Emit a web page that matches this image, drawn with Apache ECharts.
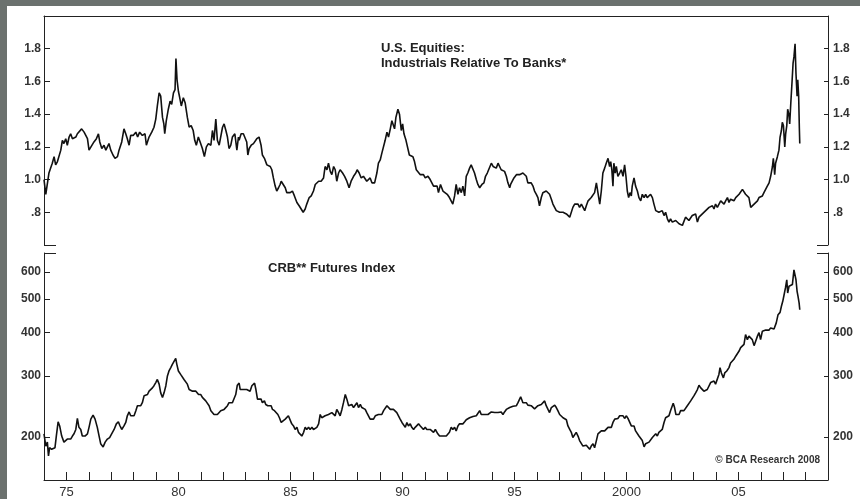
<!DOCTYPE html>
<html>
<head>
<meta charset="utf-8">
<script src="https://cdn.jsdelivr.net/npm/echarts/dist/echarts.min.js"></script>
<style>
html,body{margin:0;padding:0;background:#6b716e;width:860px;height:499px;overflow:hidden;}
#c{position:absolute;left:7px;top:6px;width:853px;height:493px;background:#fff;}
</style>
</head>
<body>
<div id="c"></div>
<script>
// ---- DATA ----
const xLabelYears = [1975, 1980, 1985, 1990, 1995, 2000, 2005];
const xLabelTexts = ['75', '80', '85', '90', '95', '2000', '05'];
const topTicks = [0.8, 1.0, 1.2, 1.4, 1.6, 1.8];
const topTickLabels = ['.8', '1.0', '1.2', '1.4', '1.6', '1.8'];
const crbTicks = [200, 300, 400, 500, 600];
const crbTickLabels = ['200', '300', '400', '500', '600'];

// U.S. Equities: Industrials relative to Banks  [year, ratio]
const industrialsVsBanks = [
[1974.00,1.00],[1974.08,0.91],[1974.22,1.04],[1974.37,1.10],[1974.45,1.14],[1974.52,1.09],[1974.60,1.11],[1974.75,1.18],[1974.82,1.24],[1974.89,1.22],[1974.97,1.25],[1975.04,1.21],[1975.12,1.26],[1975.19,1.28],[1975.27,1.25],[1975.42,1.26],[1975.49,1.28],[1975.56,1.27],[1975.68,1.31],[1975.79,1.29],[1975.86,1.30],[1975.94,1.25],[1976.01,1.18],[1976.09,1.17],[1976.23,1.23],[1976.34,1.25],[1976.43,1.28],[1976.49,1.23],[1976.58,1.19],[1976.68,1.21],[1976.76,1.18],[1976.83,1.19],[1976.90,1.22],[1976.98,1.18],[1977.08,1.15],[1977.17,1.13],[1977.28,1.14],[1977.35,1.18],[1977.47,1.23],[1977.57,1.31],[1977.65,1.28],[1977.72,1.25],[1977.80,1.21],[1977.87,1.27],[1977.98,1.27],[1978.10,1.29],[1978.18,1.26],[1978.27,1.29],[1978.39,1.27],[1978.51,1.28],[1978.57,1.21],[1978.69,1.26],[1978.81,1.29],[1978.91,1.32],[1978.99,1.37],[1979.06,1.45],[1979.14,1.53],[1979.21,1.51],[1979.29,1.38],[1979.35,1.34],[1979.39,1.28],[1979.46,1.36],[1979.55,1.43],[1979.63,1.48],[1979.70,1.46],[1979.78,1.53],[1979.85,1.55],[1979.89,1.74],[1979.94,1.61],[1980.00,1.54],[1980.06,1.50],[1980.13,1.45],[1980.22,1.50],[1980.30,1.47],[1980.40,1.38],[1980.48,1.32],[1980.57,1.33],[1980.66,1.30],[1980.73,1.24],[1980.80,1.21],[1980.89,1.26],[1980.97,1.23],[1981.07,1.19],[1981.16,1.14],[1981.25,1.20],[1981.34,1.22],[1981.45,1.21],[1981.52,1.30],[1981.59,1.24],[1981.67,1.37],[1981.74,1.24],[1981.82,1.21],[1981.89,1.21],[1981.97,1.32],[1982.04,1.34],[1982.12,1.30],[1982.19,1.26],[1982.26,1.19],[1982.34,1.21],[1982.41,1.26],[1982.52,1.28],[1982.61,1.18],[1982.68,1.26],
[1982.71,1.24],[1982.80,1.28],[1982.90,1.28],[1982.98,1.27],[1983.05,1.23],[1983.10,1.15],[1983.16,1.19],[1983.25,1.21],[1983.35,1.22],[1983.43,1.21],[1983.50,1.25],[1983.58,1.24],[1983.60,1.26],[1983.69,1.21],[1983.75,1.15],[1983.84,1.13],[1983.95,1.09],[1984.02,1.09],[1984.10,1.08],[1984.17,1.06],[1984.24,1.01],[1984.32,0.96],[1984.39,0.93],[1984.47,0.95],[1984.54,0.97],[1984.59,0.99],[1984.66,0.98],[1984.77,0.95],[1984.84,0.92],[1984.99,0.92],[1985.09,0.93],[1985.18,0.90],[1985.29,0.86],[1985.39,0.84],[1985.48,0.82],[1985.57,0.80],[1985.66,0.82],[1985.73,0.85],[1985.84,0.89],[1985.93,0.90],[1986.03,0.93],[1986.11,0.97],[1986.18,0.97],[1986.26,0.99],[1986.37,0.99],[1986.48,1.01],[1986.55,1.08],[1986.63,1.06],[1986.70,1.10],[1986.78,1.05],[1986.85,1.03],[1986.93,1.08],[1987.00,1.06],[1987.07,0.99],[1987.15,1.04],[1987.22,1.06],[1987.33,1.04],[1987.42,1.02],[1987.52,0.99],[1987.62,0.95],[1987.71,0.99],[1987.82,1.02],[1987.92,1.04],[1987.98,1.06],[1988.07,1.04],[1988.16,1.01],[1988.26,1.02],[1988.34,1.03],[1988.41,0.99],[1988.49,0.99],[1988.56,1.01],[1988.64,0.98],[1988.76,0.98],[1988.86,1.04],[1988.93,1.10],[1989.01,1.12],[1989.08,1.16],[1989.16,1.15],[1989.23,1.24],[1989.31,1.29],[1989.38,1.26],[1989.46,1.31],[1989.53,1.36],[1989.60,1.33],[1989.65,1.31],[1989.71,1.38],[1989.80,1.43],[1989.87,1.40],[1989.95,1.30],[1990.01,1.34],[1990.07,1.28],[1990.16,1.24],[1990.23,1.23],[1990.31,1.15],[1990.39,1.16],[1990.47,1.14],[1990.54,1.11],[1990.62,1.06],[1990.69,1.05],[1990.80,1.03],[1990.87,1.02],[1990.94,1.03],[1991.02,1.01],[1991.14,1.02],[1991.24,1.00],[1991.32,1.00],[1991.39,0.96],[1991.47,0.95],
[1991.55,0.96],[1991.61,0.92],[1991.70,0.97],[1991.81,0.93],[1991.88,0.92],[1992.00,0.91],[1992.10,0.89],[1992.18,0.88],[1992.25,0.85],[1992.33,0.90],[1992.40,0.97],[1992.48,0.91],[1992.55,0.95],[1992.63,0.92],[1992.70,0.96],[1992.78,0.90],[1992.85,1.02],[1992.92,1.04],[1993.00,1.07],[1993.07,1.09],[1993.15,1.09],[1993.22,1.04],[1993.30,1.00],[1993.37,0.97],[1993.45,0.95],[1993.55,0.97],[1993.64,0.98],[1993.71,1.02],[1993.79,1.04],[1993.85,1.06],[1993.91,1.08],[1993.97,1.10],[1994.05,1.08],[1994.12,1.09],[1994.19,1.07],[1994.27,1.10],[1994.34,1.08],[1994.41,1.06],[1994.49,1.07],[1994.56,1.05],[1994.64,1.02],[1994.71,0.98],[1994.79,0.95],[1994.83,0.97],[1994.90,0.98],[1994.98,1.01],[1995.09,1.03],[1995.16,1.02],[1995.23,1.03],[1995.31,1.04],[1995.38,1.04],[1995.45,1.05],[1995.53,1.02],[1995.60,0.98],[1995.68,0.99],[1995.75,0.98],[1995.83,0.96],[1995.90,0.93],[1995.98,0.91],[1996.05,0.89],[1996.12,0.84],[1996.20,0.89],[1996.27,0.92],[1996.35,0.93],[1996.42,0.93],[1996.50,0.92],[1996.57,0.91],[1996.65,0.88],[1996.72,0.85],[1996.80,0.84],[1996.87,0.81],[1996.94,0.82],[1997.02,0.80],[1997.09,0.80],[1997.17,0.80],[1997.24,0.79],[1997.32,0.79],[1997.39,0.78],[1997.47,0.77],[1997.54,0.76],[1997.61,0.83],[1997.69,0.85],[1997.76,0.84],[1997.84,0.85],[1997.91,0.83],[1997.99,0.85],[1998.06,0.86],[1998.14,0.81],[1998.21,0.84],[1998.29,0.87],[1998.36,0.88],[1998.43,0.89],[1998.51,0.90],[1998.58,0.92],[1998.66,0.98],[1998.73,0.99],[1998.81,0.85],[1998.88,0.93],[1998.95,1.04],[1999.03,1.07],[1999.10,1.10],[1999.18,1.13],[1999.25,1.08],[1999.30,1.11],[1999.35,1.06],[1999.40,0.96],[1999.44,1.10],[1999.50,1.04],[1999.55,1.08],[1999.62,1.02],[1999.70,1.04],[1999.77,1.06],[1999.85,1.02],[1999.92,1.09],[1999.98,1.02],[2000.04,0.93],[2000.10,0.89],[2000.16,0.92],[2000.22,0.90],
[2000.26,0.96],[2000.34,1.01],[2000.41,0.96],[2000.49,0.93],[2000.56,0.89],[2000.64,0.87],[2000.71,0.91],[2000.79,0.89],[2000.86,0.91],[2000.93,0.89],[2001.01,0.90],[2001.08,0.91],[2001.16,0.89],[2001.23,0.85],[2001.31,0.81],[2001.38,0.80],[2001.45,0.80],[2001.53,0.80],[2001.60,0.81],[2001.68,0.78],[2001.75,0.80],[2001.83,0.76],[2001.90,0.74],[2001.97,0.76],[2002.05,0.74],[2002.12,0.73],[2002.20,0.75],[2002.27,0.74],[2002.35,0.73],[2002.42,0.73],[2002.50,0.72],[2002.57,0.71],[2002.64,0.77],[2002.72,0.78],[2002.79,0.75],[2002.87,0.74],[2002.94,0.78],[2003.02,0.78],[2003.09,0.79],[2003.17,0.74],[2003.24,0.77],[2003.32,0.78],[2003.39,0.79],[2003.46,0.80],[2003.54,0.81],[2003.61,0.80],[2003.69,0.83],[2003.76,0.82],[2003.84,0.84],[2003.91,0.82],[2003.98,0.85],[2004.06,0.83],[2004.13,0.84],[2004.21,0.87],[2004.28,0.86],[2004.36,0.85],[2004.43,0.87],[2004.51,0.89],[2004.58,0.86],[2004.65,0.88],[2004.73,0.89],[2004.80,0.87],[2004.88,0.89],[2004.95,0.90],[2005.03,0.91],[2005.10,0.92],[2005.18,0.94],[2005.25,0.95],[2005.32,0.91],[2005.40,0.91],[2005.47,0.89],[2005.55,0.83],[2005.62,0.84],[2005.70,0.85],[2005.77,0.85],[2005.85,0.87],[2005.92,0.89],[2005.99,0.88],[2006.07,0.90],[2006.14,0.92],[2006.22,0.93],[2006.29,0.96],[2006.37,0.98],[2006.44,1.02],[2006.52,1.08],[2006.56,1.13],[2006.62,1.03],[2006.66,1.10],[2006.74,1.14],[2006.81,1.18],[2006.86,1.26],[2006.92,1.30],[2006.96,1.35],[2007.01,1.33],[2007.07,1.20],[2007.11,1.28],[2007.16,1.33],[2007.20,1.43],[2007.25,1.40],[2007.29,1.34],[2007.34,1.47],[2007.40,1.61],[2007.44,1.71],[2007.48,1.75],[2007.53,1.83],[2007.57,1.65],[2007.62,1.51],[2007.65,1.61],[2007.69,1.51],[2007.72,1.32],[2007.74,1.22]
];

// CRB** Futures Index  [year, index level]
const crbIndex = [
[1974.00,204],[1974.08,188],[1974.15,193],[1974.20,176],[1974.25,186],[1974.34,184],[1974.40,182],[1974.49,186],[1974.55,201],[1974.63,221],[1974.70,215],[1974.79,201],[1974.89,193],[1974.97,195],[1975.04,197],[1975.12,199],[1975.19,197],[1975.27,201],[1975.34,204],[1975.42,210],[1975.49,226],[1975.56,213],[1975.64,210],[1975.71,201],[1975.83,201],[1975.94,204],[1976.01,213],[1976.09,225],[1976.19,231],[1976.28,225],[1976.38,213],[1976.46,201],[1976.53,191],[1976.64,187],[1976.73,193],[1976.83,197],[1976.93,199],[1977.02,204],[1977.13,210],[1977.23,218],[1977.32,221],[1977.38,216],[1977.47,210],[1977.57,215],[1977.65,220],[1977.72,230],[1977.80,236],[1977.87,230],[1977.95,232],[1978.02,230],[1978.10,238],[1978.17,246],[1978.24,243],[1978.32,246],[1978.39,251],[1978.47,263],[1978.54,260],[1978.62,265],[1978.69,271],[1978.76,271],[1978.84,277],[1978.91,281],[1978.99,287],[1979.06,293],[1979.14,284],[1979.21,268],[1979.29,260],[1979.36,268],[1979.44,281],[1979.51,300],[1979.58,310],[1979.66,317],[1979.73,324],[1979.81,327],[1979.88,337],[1979.93,324],[1980.00,310],[1980.10,303],[1980.18,300],[1980.25,293],[1980.33,290],[1980.40,284],[1980.48,274],[1980.55,277],[1980.63,271],[1980.70,274],[1980.78,271],[1980.90,265],[1981.00,265],[1981.07,260],[1981.15,257],[1981.22,254],[1981.30,254],[1981.37,246],[1981.45,238],[1981.52,235],[1981.59,232],[1981.67,234],[1981.74,232],[1981.82,235],[1981.89,238],[1981.97,235],[1982.04,240],[1982.12,238],[1982.19,246],[1982.26,251],[1982.34,250],[1982.41,251],[1982.49,248],[1982.56,265],[1982.63,282],[1982.71,286],
[1982.76,274],[1982.83,277],[1982.90,274],[1982.98,271],[1983.05,274],[1983.13,277],[1983.20,271],[1983.28,281],[1983.35,282],[1983.40,286],[1983.46,274],[1983.53,257],[1983.60,254],[1983.69,257],[1983.75,251],[1983.84,254],[1983.90,248],[1983.99,246],[1984.05,243],[1984.14,246],[1984.20,240],[1984.29,238],[1984.35,240],[1984.44,232],[1984.51,227],[1984.59,220],[1984.66,222],[1984.77,225],[1984.84,227],[1984.91,230],[1984.99,227],[1985.06,218],[1985.14,215],[1985.21,210],[1985.29,213],[1985.36,206],[1985.44,208],[1985.51,201],[1985.59,206],[1985.66,213],[1985.73,210],[1985.81,213],[1985.88,210],[1985.96,213],[1986.03,210],[1986.11,208],[1986.18,213],[1986.26,218],[1986.33,232],[1986.40,227],[1986.48,225],[1986.55,230],[1986.63,227],[1986.70,232],[1986.78,230],[1986.85,235],[1986.93,238],[1987.00,230],[1987.07,240],[1987.15,235],[1987.22,230],[1987.30,240],[1987.37,251],[1987.45,265],[1987.52,257],[1987.60,246],[1987.67,243],[1987.74,248],[1987.82,243],[1987.89,246],[1987.97,251],[1988.04,243],[1988.12,248],[1988.19,243],[1988.27,246],[1988.34,240],[1988.41,235],[1988.49,232],[1988.56,225],[1988.64,227],[1988.71,225],[1988.79,230],[1988.86,227],[1988.93,232],[1989.01,235],[1989.08,232],[1989.16,238],[1989.23,240],[1989.31,246],[1989.38,246],[1989.46,240],[1989.53,238],[1989.60,240],[1989.68,243],[1989.75,235],[1989.83,232],[1989.90,225],[1989.98,220],[1990.05,220],[1990.13,213],[1990.20,220],[1990.27,215],[1990.35,218],[1990.42,213],[1990.50,210],[1990.57,213],[1990.65,215],[1990.72,218],[1990.80,215],[1990.87,213],[1990.94,210],[1991.02,213],[1991.09,210],[1991.17,208],[1991.24,210],[1991.32,210],[1991.39,206],[1991.47,210],
[1991.58,204],[1991.66,201],[1991.73,202],[1991.81,201],[1991.88,202],[1991.96,201],[1992.03,200],[1992.10,206],[1992.18,213],[1992.25,210],[1992.33,213],[1992.40,208],[1992.48,215],[1992.55,218],[1992.63,219],[1992.70,218],[1992.78,221],[1992.85,224],[1992.92,225],[1993.00,227],[1993.07,230],[1993.15,229],[1993.22,227],[1993.30,230],[1993.37,232],[1993.45,238],[1993.52,232],[1993.59,235],[1993.67,232],[1993.74,234],[1993.82,232],[1993.89,235],[1993.97,236],[1994.04,234],[1994.12,235],[1994.19,236],[1994.27,235],[1994.34,234],[1994.41,236],[1994.49,232],[1994.56,236],[1994.64,240],[1994.71,243],[1994.79,243],[1994.86,246],[1994.94,245],[1995.01,247],[1995.09,246],[1995.16,251],[1995.23,254],[1995.28,261],[1995.34,258],[1995.38,251],[1995.45,250],[1995.53,251],[1995.60,247],[1995.68,248],[1995.75,246],[1995.83,243],[1995.90,241],[1995.98,240],[1996.05,246],[1996.12,243],[1996.20,248],[1996.27,251],[1996.35,254],[1996.42,246],[1996.50,240],[1996.57,235],[1996.65,243],[1996.72,246],[1996.80,247],[1996.87,243],[1996.94,238],[1997.02,232],[1997.09,230],[1997.17,227],[1997.24,226],[1997.32,224],[1997.39,215],[1997.47,210],[1997.54,206],[1997.61,199],[1997.69,201],[1997.76,206],[1997.84,201],[1997.91,195],[1997.99,193],[1998.06,188],[1998.14,186],[1998.21,189],[1998.29,188],[1998.36,184],[1998.43,188],[1998.51,191],[1998.58,186],[1998.66,195],[1998.73,204],[1998.81,206],[1998.88,208],[1998.95,206],[1999.03,208],[1999.10,210],[1999.18,213],[1999.25,215],[1999.33,213],[1999.40,220],[1999.48,225],[1999.55,224],[1999.62,226],[1999.70,230],[1999.77,227],[1999.85,230],[1999.92,226],[2000.00,230],[2000.07,226],[2000.15,224],[2000.22,215],
[2000.26,213],[2000.34,215],[2000.41,208],[2000.49,206],[2000.56,201],[2000.64,199],[2000.71,195],[2000.79,187],[2000.86,191],[2000.93,193],[2001.01,193],[2001.08,195],[2001.16,199],[2001.23,197],[2001.31,204],[2001.38,201],[2001.45,206],[2001.53,208],[2001.60,210],[2001.68,220],[2001.75,227],[2001.83,226],[2001.90,230],[2001.97,238],[2002.05,246],[2002.09,250],[2002.15,243],[2002.21,232],[2002.27,235],[2002.35,232],[2002.42,238],[2002.50,235],[2002.57,238],[2002.64,240],[2002.72,246],[2002.79,248],[2002.87,254],[2002.94,257],[2003.02,263],[2003.09,268],[2003.17,274],[2003.24,282],[2003.32,277],[2003.39,274],[2003.46,271],[2003.54,271],[2003.61,274],[2003.69,277],[2003.76,287],[2003.84,284],[2003.91,290],[2003.98,284],[2004.06,287],[2004.13,303],[2004.18,317],[2004.24,306],[2004.33,296],[2004.39,306],[2004.48,310],[2004.58,317],[2004.65,327],[2004.73,331],[2004.80,335],[2004.88,342],[2004.95,346],[2005.03,354],[2005.10,362],[2005.18,358],[2005.25,370],[2005.32,395],[2005.40,382],[2005.47,391],[2005.55,391],[2005.62,382],[2005.70,367],[2005.77,378],[2005.85,391],[2005.92,400],[2005.99,382],[2006.07,404],[2006.14,401],[2006.22,407],[2006.29,409],[2006.37,407],[2006.44,413],[2006.52,416],[2006.59,410],[2006.63,409],[2006.69,427],[2006.77,451],[2006.86,458],[2006.92,477],[2006.98,493],[2007.04,515],[2007.10,539],[2007.16,569],[2007.20,521],[2007.26,545],[2007.34,545],[2007.41,551],[2007.48,608],[2007.53,615],[2007.57,569],[2007.62,527],[2007.66,510],[2007.71,488],[2007.74,466]
];

// ---- CHART ----
const FONT = '"Liberation Sans", Arial, Helvetica, sans-serif';
const AX = '#222';
const chart = echarts.init(document.getElementById('c'), null, {renderer: 'canvas'});

function pick(list, labels, v) {
  for (let i = 0; i < list.length; i++) {
    if (Math.abs(list[i] - v) < 1e-6 * Math.max(1, Math.abs(v))) return labels[i];
  }
  return '';
}

const yLabelStyle = {fontFamily: FONT, fontSize: 12, fontWeight: 'bold', color: '#333'};

const option = {
  animation: false,
  backgroundColor: '#ffffff',
  title: [
    {
      text: 'U.S. Equities:\nIndustrials Relative To Banks*',
      left: 374, top: 35, padding: 0,
      textStyle: {fontFamily: FONT, fontSize: 13, fontWeight: 'bold', color: '#222', lineHeight: 15}
    },
    {
      text: 'CRB** Futures Index',
      left: 261, top: 255, padding: 0,
      textStyle: {fontFamily: FONT, fontSize: 13, fontWeight: 'bold', color: '#222', lineHeight: 15}
    },
    {
      text: '© BCA Research 2008',
      right: 40, top: 448, padding: 0,
      textStyle: {fontFamily: FONT, fontSize: 10, fontWeight: 'bold', color: '#333', lineHeight: 12}
    }
  ],
  grid: [
    {left: 37, top: 10, width: 784, height: 229},
    {left: 37, top: 247, width: 784, height: 228}
  ],
  xAxis: [
    {
      gridIndex: 0, type: 'value', min: 1974, max: 2009, interval: 1, position: 'top',
      axisLine: {show: true, onZero: false, lineStyle: {color: AX, width: 1}},
      axisTick: {show: false}, axisLabel: {show: false}, splitLine: {show: false}
    },
    {
      gridIndex: 1, type: 'value', min: 1974, max: 2009, interval: 1, position: 'bottom',
      axisLine: {show: true, onZero: false, lineStyle: {color: AX, width: 1}},
      axisTick: {show: true, inside: true, length: 8, lineStyle: {color: AX, width: 1}},
      axisLabel: {
        show: true, customValues: xLabelYears, margin: 6,
        fontFamily: FONT, fontSize: 13, color: '#333',
        formatter: v => pick(xLabelYears, xLabelTexts, v)
      },
      splitLine: {show: false}
    }
  ],
  yAxis: [
    {
      gridIndex: 0, type: 'value', position: 'left', min: 0.6, max: 2.0, interval: 0.2,
      axisLine: {show: true, onZero: false, lineStyle: {color: AX, width: 1}},
      axisTick: {show: true, inside: true, length: 6, customValues: topTicks, lineStyle: {color: AX}},
      axisLabel: Object.assign({customValues: topTicks, margin: 3, formatter: v => pick(topTicks, topTickLabels, v)}, yLabelStyle),
      splitLine: {show: false}
    },
    {
      gridIndex: 0, type: 'value', position: 'right', min: 0.6, max: 2.0, interval: 0.2,
      axisLine: {show: true, onZero: false, lineStyle: {color: AX, width: 1}},
      axisTick: {show: true, inside: true, length: 4, customValues: topTicks, lineStyle: {color: AX}},
      axisLabel: Object.assign({customValues: topTicks, margin: 5, formatter: v => pick(topTicks, topTickLabels, v)}, yLabelStyle),
      splitLine: {show: false}
    },
    {
      gridIndex: 1, type: 'log', logBase: 10, position: 'left', min: 150, max: 680,
      axisLine: {show: true, onZero: false, lineStyle: {color: AX, width: 1}},
      axisTick: {show: true, inside: true, length: 6, customValues: crbTicks, lineStyle: {color: AX}},
      axisLabel: Object.assign({customValues: crbTicks, margin: 3, formatter: v => pick(crbTicks, crbTickLabels, v)}, yLabelStyle),
      splitLine: {show: false}, minorTick: {show: false}
    },
    {
      gridIndex: 1, type: 'log', logBase: 10, position: 'right', min: 150, max: 680,
      axisLine: {show: true, onZero: false, lineStyle: {color: AX, width: 1}},
      axisTick: {show: true, inside: true, length: 4, customValues: crbTicks, lineStyle: {color: AX}},
      axisLabel: Object.assign({customValues: crbTicks, margin: 5, formatter: v => pick(crbTicks, crbTickLabels, v)}, yLabelStyle),
      splitLine: {show: false}, minorTick: {show: false}
    }
  ],
  series: [
    {
      name: 'Industrials Relative To Banks', type: 'line', xAxisIndex: 0, yAxisIndex: 0,
      data: industrialsVsBanks, showSymbol: false, symbol: 'none', silent: true,
      lineStyle: {color: '#111', width: 1.6}
    },
    {
      name: 'CRB Futures Index', type: 'line', xAxisIndex: 1, yAxisIndex: 2,
      data: crbIndex, showSymbol: false, symbol: 'none', silent: true,
      lineStyle: {color: '#111', width: 1.6}
    }
  ]
};
chart.setOption(option);

// short frame ticks at the inner corners where the two panels meet
const cTL = chart.convertToPixel({gridIndex: 0}, [1974, 0.6]);
const cTR = chart.convertToPixel({gridIndex: 0}, [2009, 0.6]);
const cBL = chart.convertToPixel({gridIndex: 1}, [1974, 680]);
const cBR = chart.convertToPixel({gridIndex: 1}, [2009, 680]);
const seg = (x1, y, x2) => ({type: 'line', shape: {x1: x1, y1: Math.round(y) + 0.5, x2: x2, y2: Math.round(y) + 0.5}, style: {stroke: AX, lineWidth: 1}, silent: true});
if (cTL && cBL) {
  chart.setOption({graphic: [
    seg(cTL[0], cTL[1], cTL[0] + 12),
    seg(cTR[0] - 11, cTR[1], cTR[0]),
    seg(cBL[0], cBL[1], cBL[0] + 12),
    seg(cBR[0] - 11, cBR[1], cBR[0])
  ]});
}
</script>
</body>
</html>
